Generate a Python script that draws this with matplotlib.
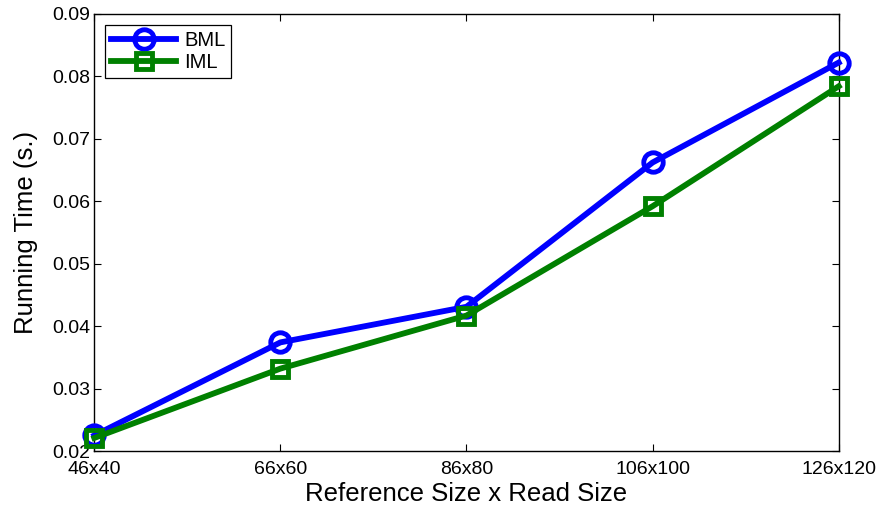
import matplotlib
matplotlib.use("Agg")
import matplotlib.pyplot as plt

sizes = ["46x40", "66x60", "86x80", "106x100", "126x120"]
bml = [0.0225, 0.0374, 0.0431, 0.0662, 0.0822]
iml = [0.0221, 0.0332, 0.0417, 0.0592, 0.0784]

plt.rcParams["font.family"] = ["Liberation Sans", "DejaVu Sans"]

fig = plt.figure(figsize=(8.81, 5.12), dpi=100)
ax = fig.add_axes([0.107, 0.119, 0.845, 0.854])

x = range(len(sizes))
ax.plot(x, bml, color="#0000ff", lw=4.2, marker="o", ms=14,
        mfc="none", mew=3.5, label="BML", clip_on=False, zorder=3)
ax.plot(x, iml, color="#008000", lw=4.2, marker="s", ms=12,
        mfc="none", mew=3.5, label="IML", clip_on=False, zorder=3)

ax.set_xlim(0, len(sizes) - 1)
ax.set_ylim(0.02, 0.09)
ax.set_xticks(list(x))
ax.set_xticklabels(sizes)
ax.set_yticks([0.02, 0.03, 0.04, 0.05, 0.06, 0.07, 0.08, 0.09])
ax.set_yticklabels(["0.02", "0.03", "0.04", "0.05", "0.06", "0.07", "0.08", "0.09"])
ax.tick_params(direction="in", top=True, right=True, labelsize=14, length=5, width=0.8)
ax.tick_params(axis="y", pad=3)
ax.tick_params(axis="x", pad=7)
for s in ax.spines.values():
    s.set_linewidth(1.0)

ax.set_xlabel("Reference Size x Read Size", fontsize=18.5, labelpad=3)
ax.set_ylabel("Running Time (s.)", fontsize=18.5, labelpad=10)

leg = ax.legend(loc="upper left", fontsize=14.5, fancybox=False, edgecolor="black",
                framealpha=1, borderaxespad=0.55, handlelength=3.2, borderpad=0.3,
                labelspacing=0.15, handletextpad=0.4)
leg.get_frame().set_linewidth(0.9)

fig.savefig("out.png", dpi=100)
